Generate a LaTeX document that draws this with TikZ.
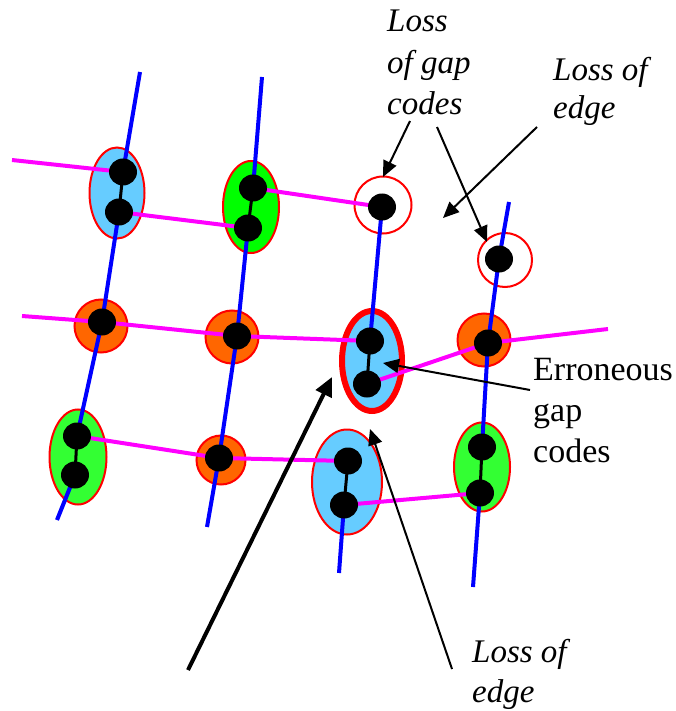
\documentclass[tikz,border=0pt]{standalone}
\usepackage{fontspec}
\setmainfont{Liberation Serif}
\usetikzlibrary{shapes.geometric,arrows.meta}
\definecolor{cellblue}{HTML}{66CCFF}
\definecolor{cellgreen}{HTML}{00FF00}
\definecolor{cellgreenb}{HTML}{33FF33}
\definecolor{cellorange}{HTML}{FF6600}
\definecolor{edgepink}{HTML}{FF00FF}
\definecolor{edgeblue}{HTML}{0000FF}
\definecolor{cellred}{HTML}{FF0000}
\tikzset{
  cell/.style={ellipse,draw=cellred,line width=2pt,inner sep=0pt},
  lostcell/.style={circle,draw=cellred,line width=2pt,fill=white,inner sep=0pt},
  badcell/.style={ellipse,draw=cellred,line width=6pt,fill=cellblue,inner sep=0pt},
  dot/.style={ellipse,fill=black,inner sep=0pt,minimum width=28pt,minimum height=27pt},
  vline/.style={draw=edgeblue,line width=4pt},
  hline/.style={draw=edgepink,line width=4pt},
  link/.style={draw=black,line width=3pt},
  callout/.style={draw=black,line width=2pt,-{Triangle[length=16pt,width=14pt]}},
  bigcallout/.style={draw=black,line width=4pt,-{Triangle[length=19pt,width=17pt]}},
  label/.style={anchor=base west,inner sep=0pt,align=left,font=\fontsize{34}{41}\selectfont},
}
\begin{document}
\begin{tikzpicture}[x=1pt,y=-1pt]
\useasboundingbox (0,0) rectangle (676,711);

% cell outlines
\node[cell,fill=cellblue,minimum width=55pt,minimum height=91pt] (c1) at (117,193) {};
\node[cell,fill=cellgreen,minimum width=56pt,minimum height=92pt] (c2) at (251,207) {};
\node[lostcell,minimum size=57pt] (c3) at (383,205) {};
\node[lostcell,minimum size=54pt] (c4) at (505,260) {};
\node[cell,fill=cellorange,circle,minimum size=53pt] (c5) at (101,326) {};
\node[cell,fill=cellorange,circle,minimum size=53pt] (c6) at (232,337) {};
\node[badcell,minimum width=60pt,minimum height=100pt] (c7) at (372,361) {};
\node[cell,fill=cellorange,circle,minimum size=53pt] (c8) at (484,340) {};
\node[cell,fill=cellgreenb,minimum width=57pt,minimum height=95pt] (c9) at (78,457) {};
\node[cell,fill=cellorange,circle,minimum size=49pt] (c10) at (221,460) {};
\node[cell,fill=cellblue,minimum width=70pt,minimum height=105pt] (c11) at (347,482) {};
\node[cell,fill=cellgreenb,minimum width=56pt,minimum height=89pt] (c12) at (482,467) {};

% line ends
\coordinate (v1t) at (140,72);
\coordinate (v1b) at (57,520);
\coordinate (v2t) at (262,77);
\coordinate (v2b) at (207,527);
\coordinate (v3b) at (339,573);
\coordinate (v4t) at (509,202);
\coordinate (v4b) at (473,587);
\coordinate (h1l) at (12,160);
\coordinate (h2l) at (22,316);
\coordinate (h2r) at (608,329);

% dot positions
\coordinate (p1a) at (123,172);
\coordinate (p1b) at (119,212);
\coordinate (p2a) at (253,188);
\coordinate (p2b) at (248,228);
\coordinate (p3) at (382,207);
\coordinate (p4) at (499,259);
\coordinate (p5) at (102,322);
\coordinate (p6) at (237,336);
\coordinate (p7a) at (370,341);
\coordinate (p7b) at (367,384);
\coordinate (p8) at (488,343);
\coordinate (p9a) at (77,436);
\coordinate (p9b) at (75,475);
\coordinate (p10) at (219,458);
\coordinate (p11a) at (348,461);
\coordinate (p11b) at (344,505);
\coordinate (p12a) at (482,447);
\coordinate (p12b) at (480,493);

% vertical (blue) lines
\draw[vline] (v1t) -- (p1a);
\draw[vline] (p1b) -- (p5) -- (p9a);
\draw[vline] (p9b) -- (v1b);
\draw[vline] (v2t) -- (p2a);
\draw[vline] (p2b) -- (p6) -- (p10) -- (v2b);
\draw[vline] (p3) -- (p7a);
\draw[vline] (p11b) -- (v3b);
\draw[vline] (v4t) -- (p4) -- (p8) -- (p12a);
\draw[vline] (p12b) -- (v4b);

% horizontal (magenta) lines
\draw[hline] (h1l) -- (p1a);
\draw[hline] (p1b) -- (p2b);
\draw[hline] (p2a) -- (p3);
\draw[hline] (h2l) -- (p5) -- (p6) -- (p7a);
\draw[hline] (p7b) -- (p8) -- (h2r);
\draw[hline] (p9a) -- (p10) -- (p11a);
\draw[hline] (p11b) -- (p12b);

% links inside merged cells
\draw[link] (p1a) -- (p1b);
\draw[link] (p2a) -- (p2b);
\draw[link] (p7a) -- (p7b);
\draw[link] (p9a) -- (p9b);
\draw[link] (p11a) -- (p11b);
\draw[link] (p12a) -- (p12b);

% dots
\foreach \p in {p1a,p1b,p2a,p2b,p3,p4,p5,p6,p7a,p7b,p8,p9a,p9b,p10,p11a,p11b,p12a,p12b}
  \node[dot] (d\p) at (\p) {};

% labels (anchored at the baseline of their last line)
\node[label,font=\fontsize{33}{41.5}\selectfont\itshape] (lgap) at (387,115) {Loss\\of gap\\codes};
\node[label,font=\fontsize{33}{38}\selectfont\itshape] (ledge1) at (553,119) {Loss of\\edge};
\node[label] (lerr) at (533,462) {Erroneous\\gap\\codes};
\node[label,font=\fontsize{33}{40}\selectfont\itshape] (ledge2) at (472,702) {Loss of\\edge};

% callout arrows
\coordinate (a1s) at (410,121);
\coordinate (a1e) at (383,177);
\coordinate (a2s) at (437,127);
\coordinate (a2e) at (487,242);
\coordinate (a3s) at (537,127);
\coordinate (a3e) at (443,218);
\coordinate (a4s) at (188,670);
\coordinate (a4e) at (332,377);
\coordinate (a5s) at (530,390);
\coordinate (a5e) at (383,363);
\coordinate (a6s) at (452,669);
\coordinate (a6e) at (370,429);
\draw[callout] (a1s) -- (a1e);
\draw[callout] (a2s) -- (a2e);
\draw[callout] (a3s) -- (a3e);
\draw[bigcallout] (a4s) -- (a4e);
\draw[callout] (a5s) -- (a5e);
\draw[callout] (a6s) -- (a6e);
\end{tikzpicture}
\end{document}
